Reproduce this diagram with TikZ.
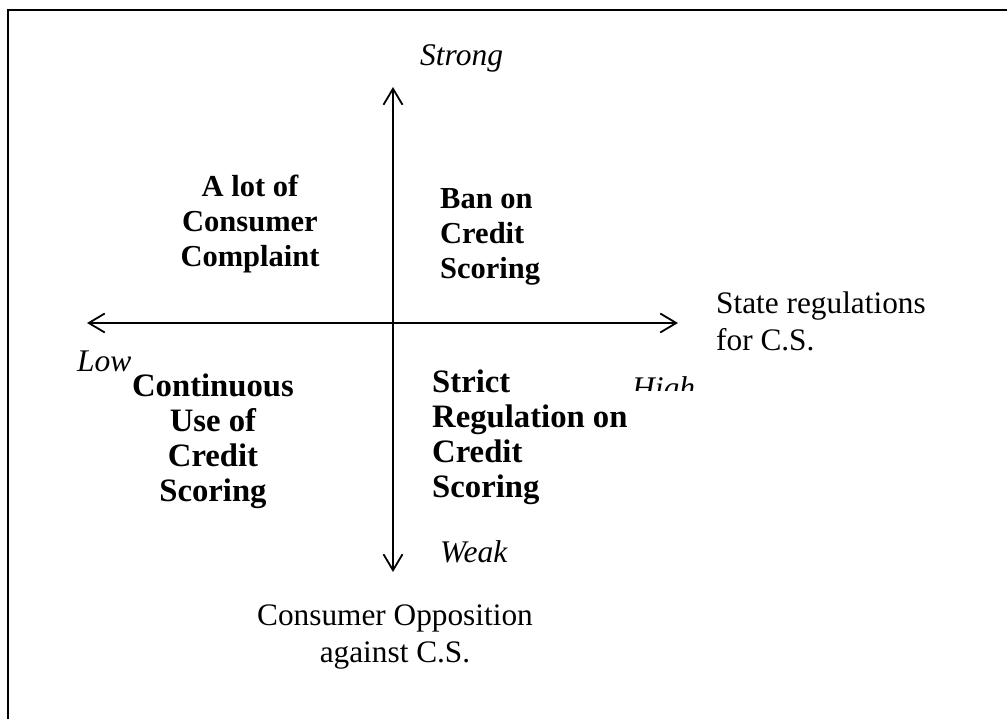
\documentclass[tikz,border=0pt]{standalone}
\usepackage{fontspec}
\setmainfont{Liberation Serif}
\usetikzlibrary{arrows.meta}
\tikzset{
  axis/.style={line width=1.8pt,{Straight Barb[length=16pt,width=19pt,line width=1.8pt]}-{Straight Barb[length=16pt,width=19pt,line width=1.8pt]}},
  quad/.style={font=\fontsize{30.5}{35}\selectfont\bfseries,inner sep=0pt},
  quadlow/.style={font=\fontsize{32.7}{35}\selectfont\bfseries,inner sep=0pt},
  plain/.style={font=\fontsize{31.3}{37}\selectfont,inner sep=0pt},
  pole/.style={font=\fontsize{31.5}{35}\selectfont\itshape,inner sep=0pt}
}
\begin{document}
\begin{tikzpicture}[x=1pt,y=-1pt]
  \useasboundingbox (0,0) rectangle (1007,719);
  % open frame: only its top and left edges fall inside the page
  \draw[line width=2.4pt] (8,725) -- (8,10) -- (1015,10);

  % axes
  \coordinate (left) at (87,323);
  \coordinate (right) at (678,323);
  \coordinate (top) at (393,87);
  \coordinate (bottom) at (393,572);
  \draw[axis] (left) -- (right);
  \draw[axis] (bottom) -- (top);

  % pole labels
  \node[pole,anchor=base west] (strong) at (420,66) {Strong};
  \node[pole,anchor=base west] (weak) at (440,562) {Weak};
  \node[pole,anchor=base west] (low) at (77,371) {Low};
  \begin{scope}
    \clip (600,350) rectangle (720,390);
    \node[pole,anchor=base west] (high) at (632,399) {High};
  \end{scope}

  % axis titles (anchored on the baseline of their last line)
  \node[plain,anchor=base west,align=left] (xtitle) at (716,351) {State regulations\\for C.S.};
  \node[plain,anchor=base,align=center] (ytitle) at (395,662) {Consumer Opposition\\against C.S.};

  % quadrants
  \node[quad,anchor=base,align=center] (q2) at (250,267) {A lot of\\Consumer\\Complaint};
  \node[quad,anchor=base west,align=left] (q1) at (440,279) {Ban on\\Credit\\Scoring};
  \node[quadlow,anchor=base,align=center] (q3) at (213,501) {Continuous\\Use of\\Credit\\Scoring};
  \node[quadlow,anchor=base west,align=left] (q4) at (432,497) {Strict\\Regulation on\\Credit\\Scoring};
\end{tikzpicture}
\end{document}
